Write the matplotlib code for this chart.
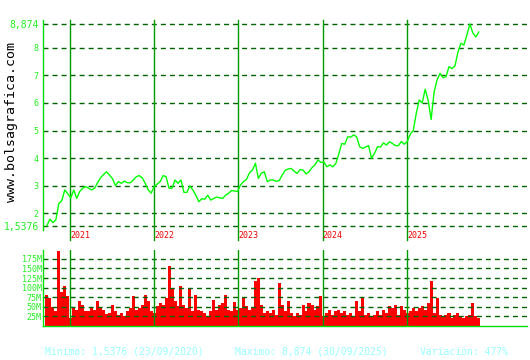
import matplotlib
matplotlib.use("Agg")
import matplotlib.pyplot as plt
import matplotlib.transforms as mtransforms
import pandas as pd

# ---- data ----
start_date = "2020-09-23"
end_date = "2025-11-08"

price = [1.5376, 1.78, 1.65, 1.75, 2.35, 2.45, 2.84, 2.70, 2.55, 2.84,
         2.53, 2.78, 2.90, 2.96, 2.90, 2.84, 2.90, 3.10, 3.28, 3.40,
         3.50, 3.38, 3.25, 3.00, 3.14, 3.08, 3.16, 3.10, 3.10, 3.20,
         3.32, 3.36, 3.28, 3.08, 2.84, 2.72, 2.96, 3.05, 3.14, 3.36,
         3.32, 2.90, 2.90, 3.20, 3.08, 3.20, 2.75, 2.75, 2.98, 2.84,
         2.65, 2.41, 2.52, 2.50, 2.65, 2.47, 2.53, 2.58, 2.55, 2.53,
         2.65, 2.72, 2.82, 2.80, 2.78, 3.02, 3.14, 3.22, 3.46, 3.56,
         3.81, 3.26, 3.45, 3.50, 3.14, 3.20, 3.20, 3.15, 3.18, 3.38,
         3.55, 3.60, 3.62, 3.52, 3.44, 3.58, 3.56, 3.42, 3.50, 3.65,
         3.75, 3.93, 3.84, 3.85, 3.68, 3.75, 3.68, 3.80, 4.15, 4.53,
         4.50, 4.77, 4.76, 4.84, 4.77, 4.41, 4.35, 4.40, 4.45, 3.99,
         4.17, 4.41, 4.40, 4.55, 4.47, 4.59, 4.53, 4.45, 4.45, 4.60,
         4.50, 4.60, 4.87, 5.00, 5.62, 6.11, 6.00, 6.50, 6.10, 5.40,
         6.40, 6.84, 7.08, 6.92, 6.96, 7.32, 7.25, 7.35, 7.85, 8.17,
         8.11, 8.47, 8.874, 8.55, 8.40, 8.58]

volume_m = [82, 72, 50, 40, 195, 88, 105, 78, 22, 50,
            42, 65, 55, 40, 38, 48, 42, 64, 50, 42,
            32, 33, 55, 38, 29, 33, 25, 38, 46, 78,
            42, 46, 55, 82, 64, 40, 33, 51, 60, 55,
            73, 156, 99, 64, 51, 103, 55, 46, 99, 38,
            82, 42, 38, 33, 25, 38, 68, 42, 55, 60,
            82, 42, 38, 62, 42, 46, 73, 51, 42, 46,
            117, 125, 55, 34, 38, 33, 42, 29, 112, 55,
            38, 66, 33, 25, 33, 29, 55, 38, 60, 55,
            42, 51, 78, 25, 33, 42, 29, 38, 42, 33,
            38, 29, 33, 25, 66, 38, 73, 29, 33, 25,
            29, 38, 29, 42, 33, 51, 46, 55, 29, 51,
            42, 33, 38, 46, 38, 46, 51, 42, 60, 118,
            33, 74, 29, 25, 29, 33, 20, 29, 33, 25,
            20, 25, 29, 61, 25, 22]

years = ["2021", "2022", "2023", "2024", "2025"]
price_ticks = [2, 3, 4, 5, 6, 7, 8]
price_min = 1.5376
price_max = 8.874
vol_ticks = [25, 50, 75, 100, 125, 150, 175]

footer_min = "Minimo: 1,5376 (23/09/2020)"
footer_max = "Maximo: 8,874 (30/09/2025)"
footer_var = "Variación: 477%"
site = "www.bolsagrafica.com"

# ---- styling ----
MONO = "DejaVu Sans Mono"
LINE_GREEN = "#00ff00"
AXIS_GREEN = "#00dd00"
LABEL_GREEN = "#22ee22"
GRID_GREEN = "#006400"
YEAR_GREEN = "#009900"
DASH = (0, (3.6, 2.9))

dates = pd.date_range(start_date, end_date, periods=len(price))
year_dates = [pd.Timestamp(f"{y}-01-01") for y in years]
xlim = (pd.Timestamp("2020-09-06"), pd.Timestamp("2026-06-05"))

W, H = 530, 360
fig = plt.figure(figsize=(W / 100, H / 100), dpi=100)
fig.patch.set_facecolor("white")

ax = fig.add_axes([43 / W, 1 - 230 / H, (527 - 43) / W, 210 / H])
axv = fig.add_axes([43 / W, 1 - 326 / H, (527 - 43) / W, 76 / H])

# ---- price panel ----
ax.set_xlim(*xlim)
ax.set_ylim(1.382, 9.018)
for v in [price_min] + price_ticks + [price_max]:
    ax.axhline(v, color=GRID_GREEN, lw=1.0, ls=DASH, zorder=1)
for d in year_dates:
    ax.axvline(d, ymin=-0.048, ymax=1, color=YEAR_GREEN, lw=1.0,
               clip_on=False, zorder=2)
ax.plot(dates, price, color=LINE_GREEN, lw=1.0, zorder=3)

ax.set_yticks([price_min] + price_ticks + [price_max])
ax.set_yticklabels(["1,5376"] + [str(t) for t in price_ticks] + ["8,874"])
ax.tick_params(axis="y", length=0, pad=3, colors=LABEL_GREEN, labelsize=6)
labs = ax.get_yticklabels()
for lab in labs:
    lab.set_family(MONO)
labs[0].set_fontsize(7)
labs[-1].set_fontsize(7)
ax.set_xticks([])
for s in ["top", "right", "bottom"]:
    ax.spines[s].set_visible(False)
ax.spines["left"].set_color(AXIS_GREEN)
ax.spines["left"].set_linewidth(1.0)
ax.patch.set_alpha(0)

trans = mtransforms.blended_transform_factory(ax.transData, ax.transAxes)
for d, y in zip(year_dates, years):
    ax.text(d, -0.026, y, transform=trans, color="#ee0000", fontsize=6,
            family=MONO, ha="left", va="center")

# ---- volume panel ----
axv.set_xlim(*xlim)
axv.set_ylim(0, 198)
axv.bar(dates, volume_m, width=pd.Timedelta(days=13.2), color="#ff0000",
        linewidth=0, zorder=1)
for v in vol_ticks:
    axv.axhline(v, color=GRID_GREEN, lw=1.0, ls=DASH, zorder=2)
for d in year_dates:
    axv.axvline(d, color=YEAR_GREEN, lw=1.0, zorder=3)
axv.set_yticks(vol_ticks)
axv.set_yticklabels([f"{t}M" for t in vol_ticks])
axv.tick_params(axis="y", length=0, pad=1, colors=LABEL_GREEN, labelsize=6)
for lab in axv.get_yticklabels():
    lab.set_family(MONO)
axv.set_xticks([])
for s in ["top", "right"]:
    axv.spines[s].set_visible(False)
for s in ["left", "bottom"]:
    axv.spines[s].set_color(AXIS_GREEN)
    axv.spines[s].set_linewidth(1.0)
axv.patch.set_alpha(0)

# ---- texts ----
fig.text(12 / W, 1 - 122 / H, site, rotation=90, family=MONO, fontsize=9.5,
         color="black", ha="center", va="center")
fy = 1 - 352 / H
fig.text(45 / W, fy, footer_min, family=MONO, fontsize=7, color="#99ffff",
         ha="left", va="center")
fig.text(235 / W, fy, footer_max, family=MONO, fontsize=7, color="#99ffff",
         ha="left", va="center")
fig.text(420 / W, fy, footer_var, family=MONO, fontsize=7, color="#99ffff",
         ha="left", va="center")

fig.savefig("out.png", dpi=100)
